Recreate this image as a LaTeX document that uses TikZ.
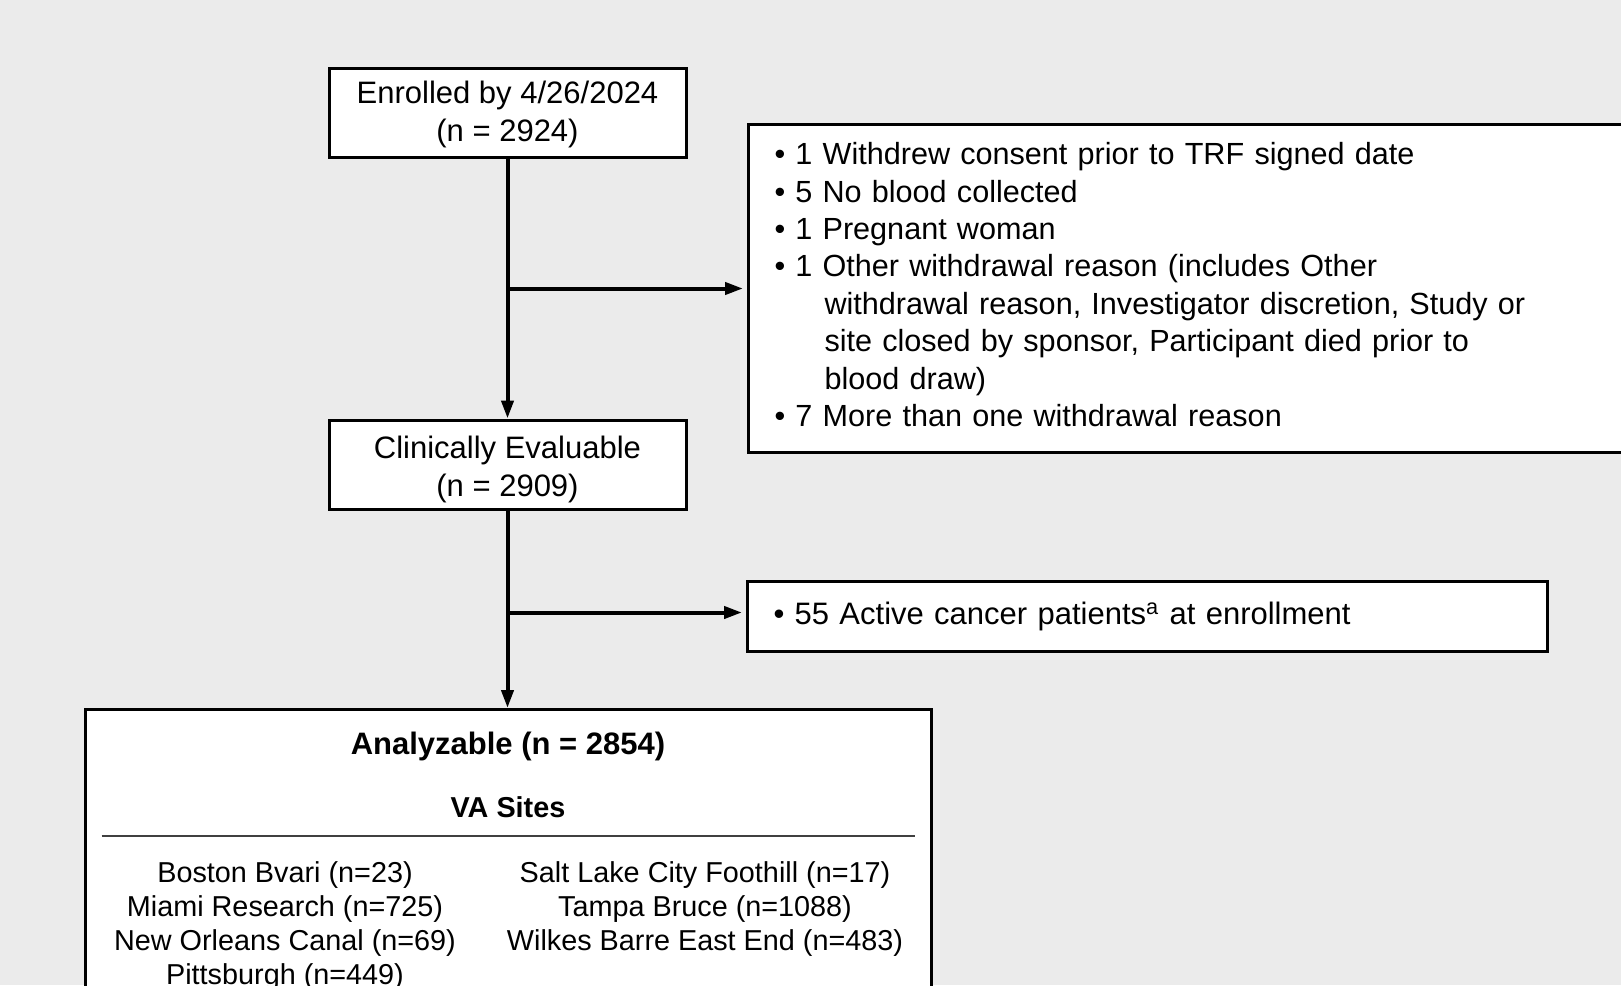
\documentclass[tikz,border=0pt]{standalone}
\usepackage{fontspec}
\setmainfont{Liberation Sans}
\usetikzlibrary {positioning}
\usetikzlibrary {arrows.meta}
\definecolor{bggray}{HTML}{EBEBEB}
\tikzset{
countbox/.style={rectangle,minimum height=44.5pt,minimum width=178.5pt,inner sep=0pt,align=center,draw=black,line width=1.5pt,fill=white}
}
\tikzset{
notebox/.style={rectangle,anchor=north west,inner xsep=13pt,inner ysep=0pt,align=left,draw=black,line width=1.5pt,fill=white}
}
\tikzset{
flowarrow/.style={line width=2pt,-{Triangle[length=9pt,width=6pt]}}
}
\tikzset{
sitetext/.style={font=\fontsize{14.4pt}{17pt}\selectfont,align=center,inner sep=0pt}
}

\begin{document}
\begin{tikzpicture}[x=0.5pt,y=-0.5pt,font=\fontsize{15.5pt}{18.85pt}\selectfont]

\fill[bggray] (0,0) rectangle (1621,985);
\useasboundingbox (0,0) rectangle (1621,985);

\node[countbox] (enrolled) at (507.5,112.5) {\rule{0pt}{13pt}Enrolled by 4/26/2024\\(n = 2924)};
\node[countbox,below=130pt of enrolled] (clinical) {\rule{0pt}{16pt}Clinically Evaluable\\(n = 2909)};
%------------------------------------------------------------------------------------------------------------%
\node[notebox,text width=430.5pt,minimum height=164pt,font=\fontsize{15.3pt}{18.7pt}\selectfont] (withdraw) at (747,123) {%
\textbullet\ 1 Withdrew consent prior to TRF signed date\\
\textbullet\ 5 No blood collected\\
\textbullet\ 1 Pregnant woman\\
\textbullet\ 1 Other withdrawal reason (includes Other\\
\hspace*{25pt}withdrawal reason, Investigator discretion, Study or\\
\hspace*{25pt}site closed by sponsor, Participant died prior to\\
\hspace*{25pt}blood draw)\\
\textbullet\ 7 More than one withdrawal reason\rule[-4pt]{0pt}{1pt}};
\node[notebox,text width=374pt,minimum height=35pt] (cancer) at (746,580) {\textbullet\ 55 Active cancer patients\textsuperscript{a} at enrollment};
%------------------------------------------------------------------------------------------------------------%
\node[rectangle,minimum width=423pt,minimum height=151pt,anchor=north,draw=black,line width=1.5pt,fill=white] (analyz) at (508,708) {};
\node[font=\fontsize{15.5pt}{18.85pt}\selectfont\bfseries] (atitle) at ([yshift=-19pt]analyz.north) {Analyzable (n = 2854)};
\node[font=\fontsize{14.4pt}{17pt}\selectfont\bfseries] (vasites) at ([yshift=-49.5pt]analyz.north) {VA Sites};
\coordinate (ruleL) at ([xshift=9pt,yshift=-64pt]analyz.north west);
\coordinate (ruleR) at ([xshift=-9pt,yshift=-64pt]analyz.north east);
\draw[line width=0.75pt,black!75] (ruleL) -- (ruleR);
\node[sitetext] (leftsites) at (285,926) {Boston Bvari (n=23)\\Miami Research (n=725)\\New Orleans Canal (n=69)\\Pittsburgh (n=449)};
\node[sitetext] (rightsites) at (705,908.6) {Salt Lake City Foothill (n=17)\\Tampa Bruce (n=1088)\\Wilkes Barre East End (n=483)};
%------------------------------------------------------------------------------------------------------------%
\draw[flowarrow] (enrolled) -- (clinical);
\draw[flowarrow] (clinical.south) -- (clinical.south |- analyz.north);
\draw[flowarrow,shorten >=2pt] (enrolled.south |- withdraw.west) -- (withdraw.west);
\coordinate (cancerin) at ([yshift=2pt]cancer.west);
\draw[flowarrow,shorten >=2pt] (clinical.south |- cancerin) -- (cancerin);

\end{tikzpicture}
\end{document}
